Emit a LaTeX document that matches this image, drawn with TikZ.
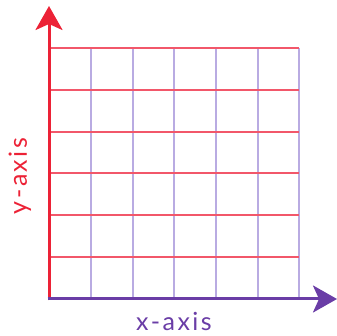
\documentclass[tikz,border=0pt]{standalone}
\usepackage{fontspec}
\setmainfont{Lato}
\usetikzlibrary{arrows.meta}
\definecolor{axred}{HTML}{EC2236}
\definecolor{gridred}{HTML}{F2576A}
\definecolor{axpurple}{HTML}{6A3DA6}
\definecolor{gridpurple}{HTML}{B9ABE2}
\tikzset{
  hline/.style={gridred, line width=1.2pt},
  vline/.style={gridpurple, line width=1.2pt},
  axis/.style={line width=3pt, -{Stealth[length=24pt,width=27pt,inset=6pt]}},
  lbl/.style={font=\fontsize{25}{25}\selectfont\addfontfeature{LetterSpace=10}, inner sep=0pt}
}
\begin{document}
\begin{tikzpicture}[x=1pt,y=-1pt]
\useasboundingbox (0,0) rectangle (337,336);
\coordinate (O) at (49,299);
\coordinate (ytip) at (49,6);
\coordinate (xtip) at (337,299);
\foreach \x in {91,133,174,216,258,299} {
  \draw[vline] (\x,48) -- (\x,299);
}
\foreach \y in {48,90,132,173,215,257} {
  \draw[hline] (49,\y) -- (299,\y);
}
\draw[axis, axred] (49,300.5) -- (ytip);
\draw[axis, axpurple] (47.5,299) -- (xtip);
\node[lbl, text=axpurple] (xl) at (174,321) {x-axis};
\node[lbl, text=axred, rotate=90] (yl) at (20,176) {y-axis};
\end{tikzpicture}
\end{document}
